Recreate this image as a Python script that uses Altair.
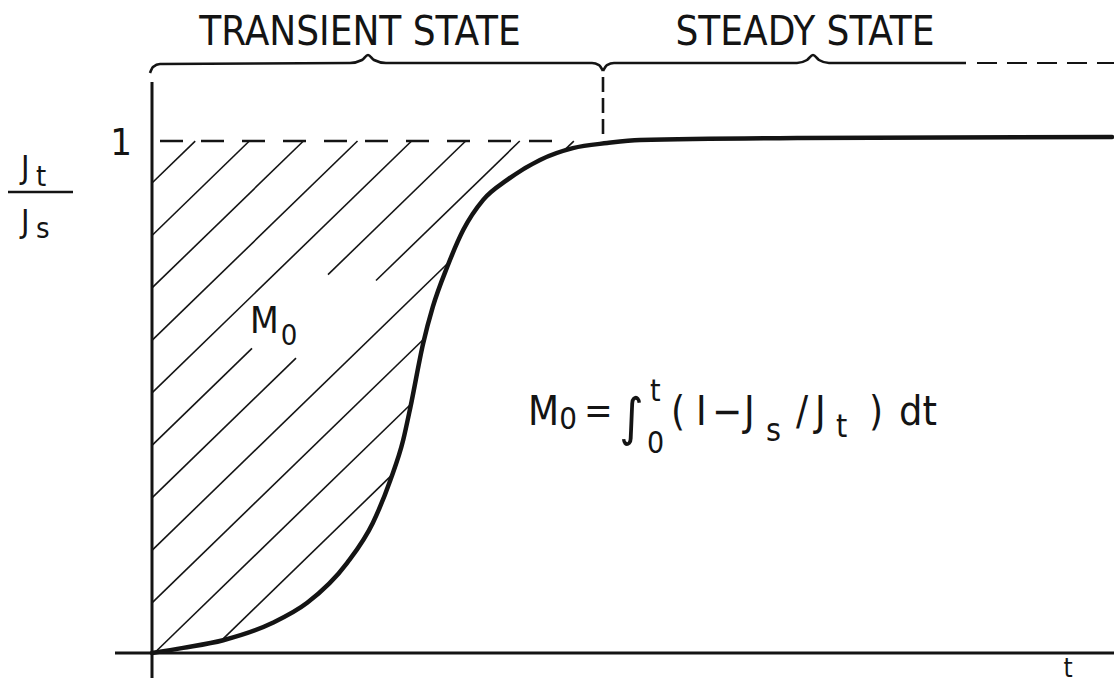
import numpy as np
import pandas as pd
import altair as alt

INK = "#141414"
FONT = "DejaVu Sans Condensed, DejaVu Sans"

# Normalised flux J_t/J_s against time (arbitrary time units)
t_curve = [0, 0.39, 0.89, 1.51, 1.94, 2.44, 2.76, 2.98, 3.14, 3.23, 3.39, 3.51,
           3.69, 3.89, 4.14, 4.44, 4.85, 5.26, 5.69, 6.10, 8.10, 12.0]
j_curve = [0, 0.010, 0.025, 0.059, 0.098, 0.176, 0.254, 0.338, 0.416, 0.480, 0.605, 0.676,
           0.754, 0.826, 0.885, 0.924, 0.963, 0.986, 0.996, 1.002, 1.006, 1.008]

# Hatching of the lag area M0 between J = 1 and the curve
hatch_first_j = 0.918      # first hatch line crosses the J axis here
hatch_step_j = 0.1025      # spacing of hatch lines along the J axis
hatch_slope = 0.1516       # dJ/dt of every hatch line
hatch_count = 13
hatch_gaps = {5: (1.25, 2.2), 6: (1.8, 2.8)}  # blanks left around the M0 label

# Braces over the two regimes
brace1_t = [-0.025, 0.0125, 0.1, 2.475, 2.625, 2.7, 2.775, 2.925, 5.5, 5.5875, 5.6375]
brace1_j = [1.1328, 1.1445, 1.1504, 1.1523, 1.1582, 1.1680, 1.1582, 1.1523, 1.1523, 1.1484, 1.1367]
brace2_t = [5.6375, 5.6875, 5.775, 8.0625, 8.1875, 8.2625, 8.3375, 8.4625, 10.175]
brace2_j = [1.1367, 1.1484, 1.1523, 1.1523, 1.1582, 1.1680, 1.1582, 1.1523, 1.1523]

# Text: label, t, J, font size
left_labels = [
    ("J", -1.6375, 0.9277, 32), ("t", -1.45, 0.9121, 29),
    ("J", -1.6375, 0.8223, 32), ("s", -1.45, 0.8105, 29),
    ("M", 1.225, 0.625, 37), ("0", 1.61, 0.6016, 29),
    ("M", 4.70, 0.4453, 40), ("0", 5.09, 0.4375, 31),
    ("=", 5.40, 0.4492, 38), ("∫", 5.84, 0.425, 52),
    ("t", 6.225, 0.4922, 30), ("0", 6.1875, 0.3906, 30),
    ("(", 6.4875, 0.4453, 40), ("I", 6.80, 0.4453, 40),
    ("−", 7.0, 0.4453, 40), ("J", 7.40, 0.4453, 40),
    ("s", 7.675, 0.4141, 32), ("/", 8.05, 0.4453, 40),
    ("J", 8.2875, 0.4453, 40), ("t", 8.55, 0.4219, 32),
    (")", 8.9625, 0.4453, 40), ("dt", 9.3375, 0.4453, 41),
]
center_labels = [
    ("TRANSIENT STATE", 2.6, 1.1875, 40),
    ("STEADY STATE", 8.1625, 1.1875, 40),
    ("1", -0.3875, 0.9727, 38),
    ("t", 11.45, -0.0469, 26),
]

# ---- hatch segments: parts of each 45-degree line lying above the curve and below J = 1
tt = np.linspace(0, 7, 7001)
cj = np.interp(tt, t_curve, j_curve)
hatch_rows = []
for k in range(hatch_count):
    j0 = hatch_first_j - k * hatch_step_j
    lj = j0 + hatch_slope * tt
    idx = np.flatnonzero((lj > cj) & (lj <= 1.0))
    if idx.size == 0:
        continue
    cuts = np.flatnonzero(np.diff(idx) > 1)
    starts = np.r_[idx[0], idx[cuts + 1]]
    ends = np.r_[idx[cuts], idx[-1]]
    for a, b in zip(starts, ends):
        pieces = [(tt[a], tt[b])]
        if k in hatch_gaps:
            g0, g1 = hatch_gaps[k]
            kept = []
            for p, q in pieces:
                if q <= g0 or p >= g1:
                    kept.append((p, q))
                else:
                    if p < g0:
                        kept.append((p, g0))
                    if q > g1:
                        kept.append((g1, q))
            pieces = kept
        for p, q in pieces:
            if q - p > 0.02:
                hatch_rows.append(dict(t=p, j=j0 + hatch_slope * p,
                                       t2=q, j2=j0 + hatch_slope * q))
hatch = pd.DataFrame(hatch_rows)

curve = pd.DataFrame({"t": t_curve, "j": j_curve})
brace1 = pd.DataFrame({"t": brace1_t, "j": brace1_j})
brace2 = pd.DataFrame({"t": brace2_t, "j": brace2_j})

xs = alt.Scale(domain=[-1.9, 12.025], nice=False, zero=False)
ys = alt.Scale(domain=[-0.060546875, 1.275390625], nice=False, zero=False)


def X(f):
    return alt.X(f, type="quantitative", scale=xs, axis=None)


def Y(f):
    return alt.Y(f, type="quantitative", scale=ys, axis=None)


def seg(t, j, t2, j2):
    return pd.DataFrame({"t": [t], "j": [j], "t2": [t2], "j2": [j2]})


def rule(df, width, dash=None):
    kw = dict(color=INK, strokeWidth=width)
    if dash:
        kw["strokeDash"] = dash
    return alt.Chart(df).mark_rule(**kw).encode(
        x=X("t"), y=Y("j"), x2=alt.X2("t2"), y2=alt.Y2("j2"))


hatch_layer = rule(hatch, 1.6)
steady_level = rule(seg(0.1, 1.0, 5.15, 1.0), 2.4, [23, 18])
split_mark = rule(seg(5.6375, 1.0137, 5.6375, 1.1328), 2.6, [15, 6])
y_axis = rule(seg(0, -0.0488, 0, 1.1152), 3)
x_axis = rule(seg(-0.4625, 0, 12.025, 0), 3)
brace_tail = rule(seg(10.3125, 1.1523, 12.025, 1.1523), 2.2, [20, 10])
frac_bar = rule(seg(-1.8, 0.9004, -0.9875, 0.9004), 2.5)

curve_layer = alt.Chart(curve).mark_line(
    color=INK, strokeWidth=4.5, interpolate="monotone", strokeCap="round"
).encode(x=X("t"), y=Y("j"))

brace_layers = [
    alt.Chart(b).mark_line(color=INK, strokeWidth=2.6, interpolate="monotone").encode(
        x=X("t"), y=Y("j"))
    for b in (brace1, brace2)
]


def text_layer(rows, align):
    df = pd.DataFrame(rows, columns=["label", "t", "j", "size"])
    return alt.Chart(df).mark_text(
        align=align, baseline="alphabetic", font=FONT, color=INK
    ).encode(
        x=X("t"), y=Y("j"), text="label:N",
        size=alt.Size("size:Q", scale=None, legend=None),
    )


chart = alt.layer(
    hatch_layer, steady_level, split_mark, y_axis, x_axis, curve_layer,
    *brace_layers, brace_tail, frac_bar,
    text_layer(left_labels, "left"), text_layer(center_labels, "center"),
).properties(
    width=1114, height=684, padding=0, background="white",
    autosize=alt.AutoSizeParams(type="none"),
).configure_view(stroke=None)

chart.save("out.html", embed_options={"renderer": "svg", "actions": False})
